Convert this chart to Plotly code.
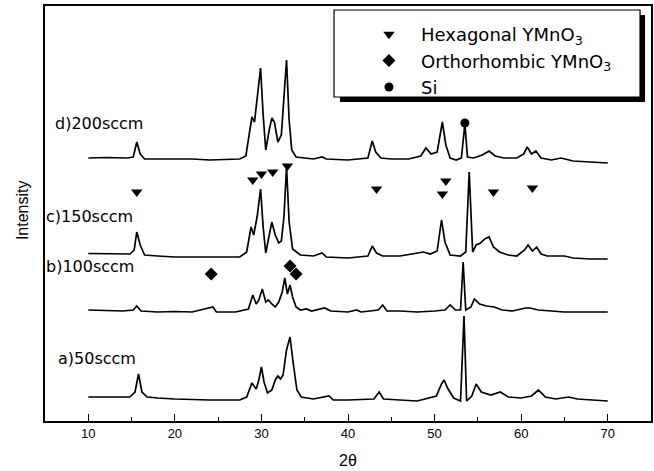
import plotly.graph_objects as go

# ---------------- data ----------------
# 2-theta / intensity (a.u., relative to each pattern's own baseline)
a_2theta = [10, 14.8, 15.4, 15.8, 16.2, 16.8, 18, 20, 24, 27.5, 28.3, 28.9, 29.4, 29.7, 30.0, 30.3, 30.7,
            31.2, 31.6, 31.9, 32.2, 32.5, 32.9, 33.3, 33.7, 34.1, 34.6, 36, 37.8, 38.3, 40, 43.0, 43.6,
            44.1, 46, 48, 50.2, 50.8, 51.1, 51.5, 52.2, 53.0, 53.4, 53.7, 54.3, 54.8, 55.4, 56.5, 57.6,
            58.5, 60, 61.2, 62.0, 62.8, 64, 65.5, 66.5, 68, 70]
a_int = [3, 3, 8, 26, 8, 3, 2, 1, 0, 0, 3, 17, 11, 20, 33, 18, 7,
         10, 20, 24, 21, 25, 50, 63, 35, 10, 3, 1, 4, 0, 0, 1, 8,
         1, 0, -1, 4, 16, 20, 12, 2, -1, 84, -1, 4, 16, 8, 5, 8,
         3, 2, 4, 10, 3, 1, 3, 1, 0, -1]

b_2theta = [10, 14, 15.2, 15.6, 16.1, 18, 20, 22, 24.4, 24.8, 27, 28.5, 29.0, 29.4, 29.7, 30.1, 30.5,
            30.8, 31.2, 31.6, 32.0, 32.4, 32.7, 33.0, 33.3, 33.6, 34.0, 34.5, 35.2, 35.8, 37.3, 38, 40,
            41, 41.5, 43.5, 44.0, 44.5, 46, 48, 50, 51.2, 51.8, 52.4, 53.0, 53.3, 53.6, 54.2, 54.6,
            55.2, 56, 56.9, 57.8, 59, 60.5, 61, 62, 63.5, 65, 67, 70]
b_int = [2, 1, 2, 6, 1, 0, 0.5, 0, 5, 0, 0, 3, 17, 8, 12, 23, 10,
         12, 8, 5, 10, 20, 34, 18, 27, 15, 5, 2, 3, 1, 4, 1, 0,
         2, 0, 2, 7, 1, 1, 0, 1, 2, 7, 2, 2, 50, 2, 5, 13,
         8, 6, 5, 2, 1, 4, 4, 2, 1, 0, 0, 0]

c_2theta = [10, 14.8, 15.3, 15.6, 16.0, 16.5, 18, 20, 24, 27.5, 28.3, 28.8, 29.1, 29.5, 29.9, 30.2, 30.5,
            30.9, 31.2, 31.6, 32.0, 32.3, 32.6, 32.9, 33.2, 33.6, 34.5, 36, 37, 37.5, 40, 42.3, 42.8,
            43.3, 44, 46, 48.7, 49.5, 50.3, 50.8, 51.2, 51.8, 53.0, 53.6, 54.0, 54.4, 54.8, 55.3, 55.8,
            56.3, 56.8, 57.5, 58.5, 59.5, 60.4, 60.8, 61.3, 61.8, 62.3, 63, 65, 66, 68, 70]
c_int = [3.5, 3, 7, 25, 12, 2, 1, 0, 0, 0, 5, 30, 22, 40, 68, 30, 4,
         20, 35, 22, 14, 16, 40, 90, 35, 8, 2, 1, 4, 0, -1, 1, 11,
         4, 1, 1, 5, 3, 6, 37, 15, 2, 1, 5, 85, 5, 12, 14, 18,
         20, 10, 5, 2, 1, 7, 12, 6, 10, 3, 1, 1, -1, -2, -2]

d_2theta = [10, 12, 14.5, 15.2, 15.6, 16.0, 16.5, 18, 20, 22, 24, 26, 27.5, 28.2, 28.6, 28.9, 29.2,
            29.5, 29.9, 30.2, 30.5, 30.9, 31.2, 31.5, 31.9, 32.3, 32.6, 32.9, 33.2, 33.5, 34, 35, 36,
            37, 37.5, 40, 42.3, 42.8, 43.2, 43.8, 45, 47, 48.4, 49.0, 49.6, 50.3, 50.9, 51.3, 51.8,
            52.5, 53.1, 53.5, 53.8, 54.5, 55.5, 56.3, 57, 58, 59.5, 60.3, 60.7, 61.2, 61.7, 62.3,
            63.5, 64.6, 66, 68, 70]
d_int = [2, 2.5, 2, 3, 18, 6, 1, 1, 0.5, 1, 0, 0.5, 1, 4, 25, 43, 38,
         60, 92, 45, 10, 30, 42, 38, 18, 25, 60, 100, 40, 10, 3, 2, 1,
         3, 1, 0, 2, 19, 8, 2, 1, 1, 4, 12, 6, 8, 38, 15, 2,
         0, 2, 36, 3, 2, 5, 9, 4, 2, 2, 6, 13, 6, 9, 2,
         0, 2, -1, -2, -3]

labels = ["a)50sccm", "b)100sccm", "c)150sccm", "d)200sccm"]
offsets = [21, 109, 164, 261]          # vertical stacking offsets (a.u.)

# phase markers (2theta, a.u. on the stacked scale)
hex_2theta = [15.6, 29.0, 30.0, 31.3, 33.0, 43.3, 50.9, 51.3, 56.8, 61.3]
hex_int = [229, 241, 247, 249, 255, 232, 227, 240, 229, 233]
ortho_2theta = [24.2, 33.3, 34.0]
ortho_int = [147, 155, 147]
si_2theta = [53.5]
si_int = [298]

xticks = [10, 20, 30, 40, 50, 60, 70]

# ---------------- figure ----------------
W, H = 654, 471
ml, mr, mt, mb = 45, 1, 6, 50
pw, ph = W - ml - mr, H - mt - mb


def px(x):
    return (x - ml) / pw


def py(y):
    return (H - mb - y) / ph


fig = go.Figure()
series = [(a_2theta, a_int), (b_2theta, b_int), (c_2theta, c_int), (d_2theta, d_int)]
for (xs, ys), off, lab in zip(series, offsets, labels):
    fig.add_trace(go.Scatter(x=xs, y=[v + off for v in ys], mode="lines", name=lab,
                             line=dict(color="black", width=1.7), showlegend=False,
                             hoverinfo="skip"))

fig.add_trace(go.Scatter(x=hex_2theta, y=hex_int, mode="markers", name="Hexagonal YMnO<sub>3</sub>",
                         marker=dict(symbol="triangle-down", size=10, color="black")))
fig.add_trace(go.Scatter(x=ortho_2theta, y=ortho_int, mode="markers", name="Orthorhombic YMnO<sub>3</sub>",
                         marker=dict(symbol="diamond", size=10, color="black")))
fig.add_trace(go.Scatter(x=si_2theta, y=si_int, mode="markers", name="Si",
                         marker=dict(symbol="circle", size=9, color="black")))

fig.update_xaxes(range=[5, 75], tickvals=xticks, ticks="inside", ticklen=7, tickwidth=1.3,
                 tickcolor="black", showline=True, mirror=True, linecolor="black", linewidth=1.5,
                 showgrid=False, zeroline=False,
                 minor=dict(dtick=5, tick0=5, ticks="inside", ticklen=4, tickcolor="black"),
                 tickfont=dict(family="Liberation Sans", size=13, color="black"))
fig.update_yaxes(range=[0, 415], showticklabels=False, ticks="", showline=True, mirror=True,
                 linecolor="black", linewidth=1.5, showgrid=False, zeroline=False)

# legend frame with drop shadow
fig.add_shape(type="rect", xref="paper", yref="paper", x0=px(341), x1=px(647), y0=py(102), y1=py(15),
              fillcolor="black", line=dict(width=0), layer="above")
fig.add_shape(type="rect", xref="paper", yref="paper", x0=px(335), x1=px(642), y0=py(97), y1=py(10),
              fillcolor="white", line=dict(color="black", width=1.2), layer="above")

annots = [
    dict(text="d)200sccm", x=px(53), y=py(123)),
    dict(text="c)150sccm", x=px(44), y=py(216)),
    dict(text="b)100sccm", x=px(44), y=py(266)),
    dict(text="a)50sccm", x=px(56), y=py(358)),
]
for a in annots:
    fig.add_annotation(xref="paper", yref="paper", xanchor="left", yanchor="middle", showarrow=False,
                       font=dict(family="DejaVu Sans", size=16, color="black"), **a)

fig.add_annotation(text="Intensity", xref="paper", yref="paper", x=px(23), y=py(210), textangle=-90,
                   showarrow=False, xanchor="center", yanchor="middle",
                   font=dict(family="Liberation Sans", size=16, color="black"))
fig.add_annotation(text="2θ", xref="paper", yref="paper", x=px(349), y=py(460), showarrow=False,
                   xanchor="center", yanchor="middle",
                   font=dict(family="Liberation Sans", size=16, color="black"))

fig.update_layout(width=W, height=H, margin=dict(l=ml, r=mr, t=mt, b=mb),
                  paper_bgcolor="white", plot_bgcolor="white",
                  legend=dict(x=px(358), y=py(16), xanchor="left", yanchor="top",
                              bgcolor="rgba(0,0,0,0)", borderwidth=0, tracegroupgap=0,
                              itemwidth=54,
                              font=dict(family="DejaVu Sans", size=18, color="black")))

fig.write_html("out.html")
